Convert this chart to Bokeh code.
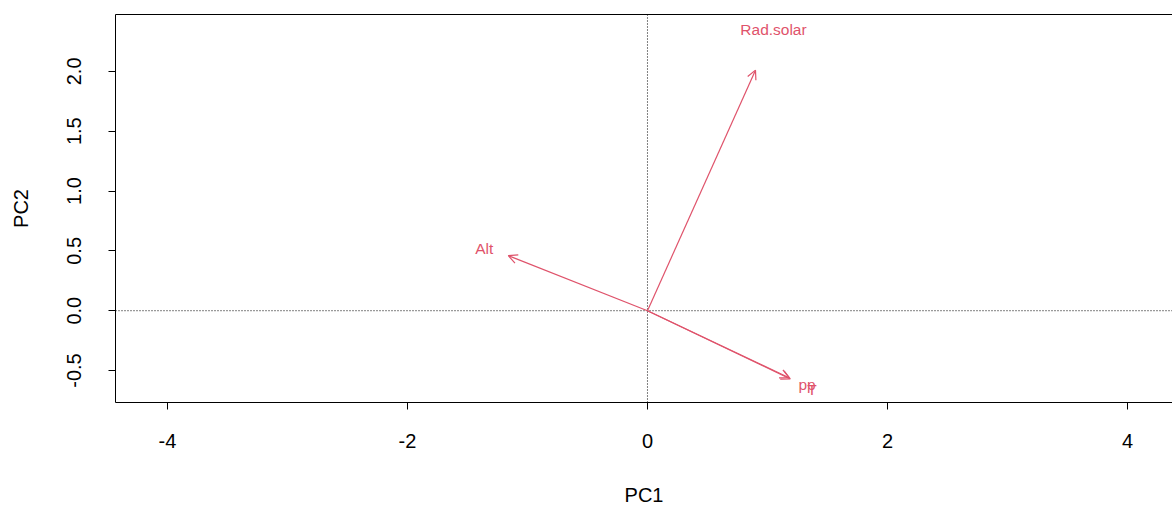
from bokeh.plotting import figure
from bokeh.models import (Arrow, OpenHead, ColumnDataSource, Span, LinearAxis,
                          FixedTicker, Range1d)
from bokeh.core.properties import value
from bokeh.embed import file_html
from bokeh.resources import INLINE

# ---- data ----
variables = ["Rad.solar", "Alt", "pp", "T"]
pc1_load = [0.90, -1.16, 1.18, 1.19]
pc2_load = [2.01, 0.46, -0.56, -0.57]
label_x = [1.05, -1.36, 1.33, 1.37]
label_y = [2.35, 0.52, -0.62, -0.66]
x_ticks = [-4, -2, 0, 2, 4]
x_tick_labels = ["-4", "-2", "0", "2", "4"]
y_ticks = [-0.5, 0.0, 0.5, 1.0, 1.5, 2.0]
y_tick_labels = ["-0.5", "0.0", "0.5", "1.0", "1.5", "2.0"]
x_lim = (-4.433, 4.375)
y_lim = (-0.767, 2.475)

RED = "#DF536B"
FONT = "Liberation Sans"

p = figure(width=1172, height=508, output_backend="svg", toolbar_location=None,
           x_range=Range1d(*x_lim), y_range=Range1d(*y_lim),
           min_border_left=115, min_border_right=0, min_border_top=14,
           min_border_bottom=105, x_axis_label="PC1", y_axis_label="PC2")
p.outline_line_color = None
p.grid.visible = False
p.background_fill_color = "white"
p.border_fill_color = "white"

for ax in (p.xaxis[0], p.yaxis[0]):
    ax.axis_line_color = "black"
    ax.major_tick_line_color = "black"
    ax.major_tick_out = 7
    ax.major_tick_in = 0
    ax.minor_tick_line_color = None
    ax.major_label_text_font = FONT
    ax.major_label_text_font_size = "20px"
    ax.major_label_text_color = "black"
    ax.axis_label_text_font = FONT
    ax.axis_label_text_font_size = "20px"
    ax.axis_label_text_font_style = "normal"
    ax.axis_label_text_color = "black"

p.xaxis.ticker = FixedTicker(ticks=x_ticks)
p.yaxis.ticker = FixedTicker(ticks=y_ticks)
p.xaxis.major_label_overrides = {t: s for t, s in zip(x_ticks, x_tick_labels)}
p.yaxis.major_label_overrides = {t: s for t, s in zip(y_ticks, y_tick_labels)}
p.yaxis.major_label_orientation = "vertical"
p.xaxis.major_label_standoff = 24
p.yaxis.major_label_standoff = 27
p.xaxis.axis_label_standoff = 33
p.yaxis.axis_label_standoff = 33

top = LinearAxis(ticker=FixedTicker(ticks=[]), major_tick_out=0, major_tick_in=0,
                 major_label_text_font_size="0px", axis_line_color="black",
                 major_label_standoff=0, minor_tick_line_color=None)
p.add_layout(top, "above")

p.add_layout(Span(location=0, dimension="width", line_color="black",
                  line_dash="1 2", line_width=1))
p.add_layout(Span(location=0, dimension="height", line_color="black",
                  line_dash="1 2", line_width=1))

src = ColumnDataSource(dict(x0=[0] * len(variables), y0=[0] * len(variables),
                            x1=pc1_load, y1=pc2_load, lx=label_x, ly=label_y,
                            name=variables))
p.add_layout(Arrow(end=OpenHead(size=9, line_color=RED, line_width=1.2),
                   x_start="x0", y_start="y0", x_end="x1", y_end="y1",
                   source=src, line_color=RED, line_width=1.2))
p.text(x="lx", y="ly", text="name", source=src, text_color=RED,
       text_font=value(FONT), text_font_size="15.5px", text_align="center",
       text_baseline="middle")

open("out.html", "w").write(file_html(p, INLINE))
